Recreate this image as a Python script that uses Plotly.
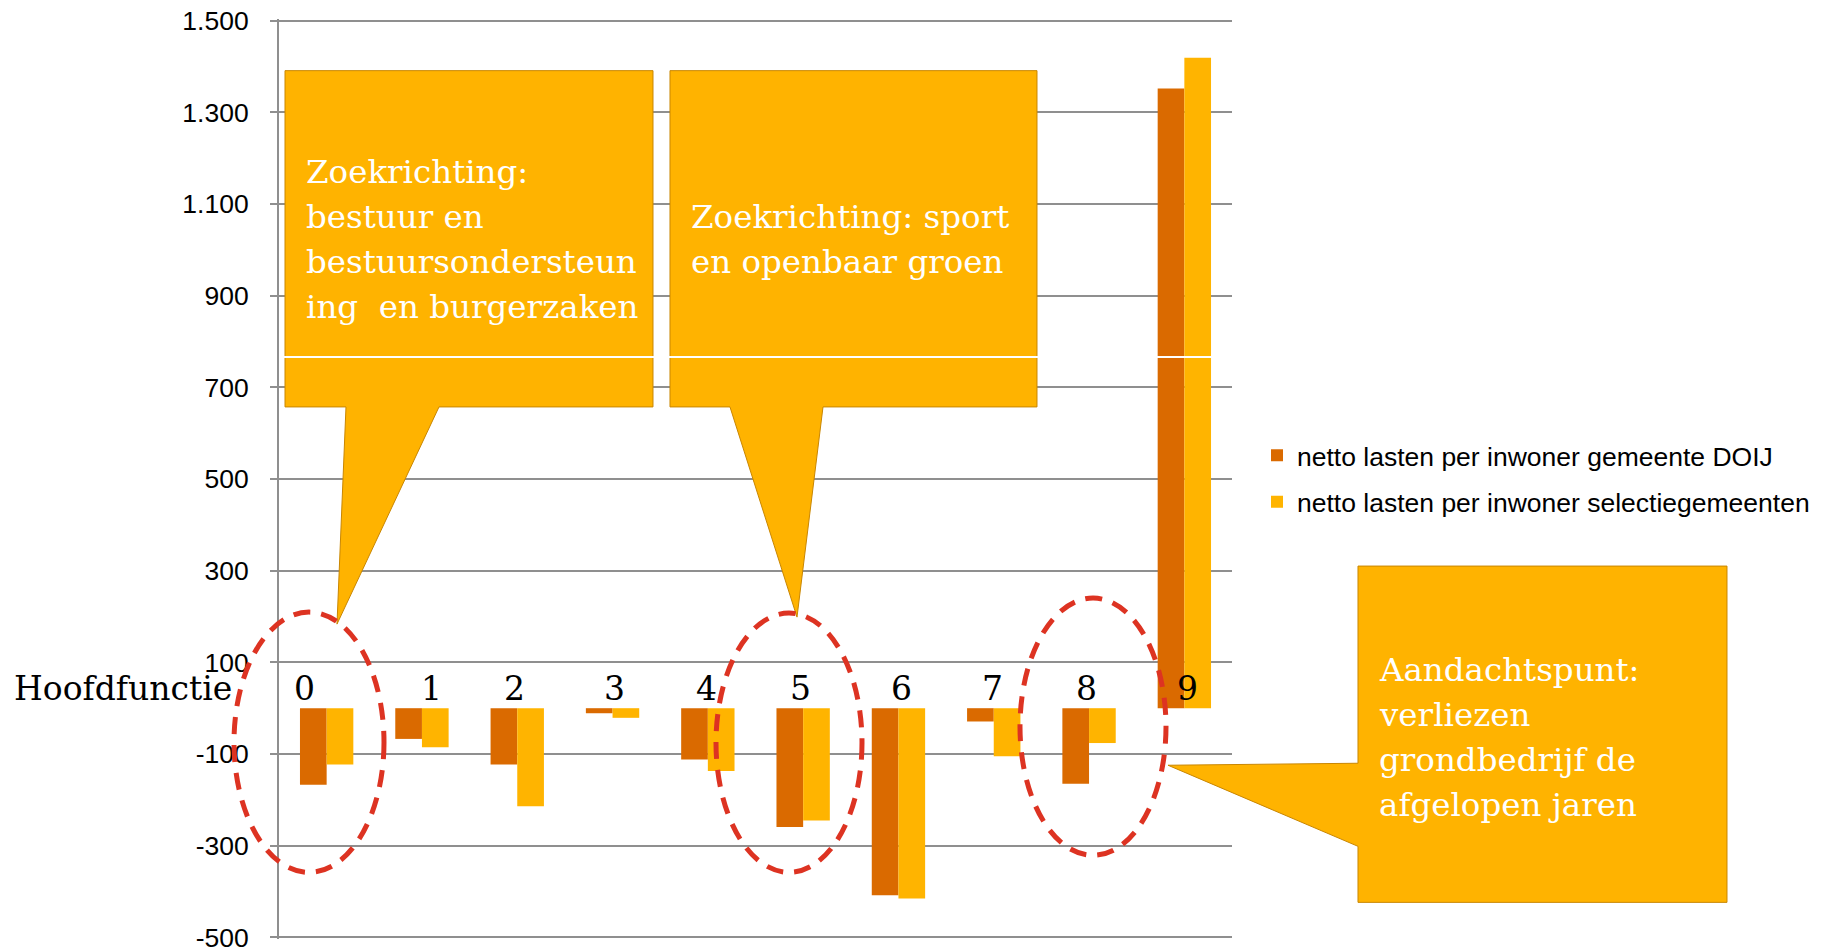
import plotly.graph_objects as go

# ---------------- data ----------------
categories = ["0", "1", "2", "3", "4", "5", "6", "7", "8", "9"]
doij = [-167, -67, -123, -11, -112, -259, -408, -29, -165, 1352]
selectie = [-123, -85, -214, -21, -137, -245, -415, -105, -76, 1419]
series_names = ["netto lasten per inwoner gemeente DOIJ",
                "netto lasten per inwoner selectiegemeenten"]
tick_vals = [-500, -300, -100, 100, 300, 500, 700, 900, 1100, 1300, 1500]
tick_text = ["-500", "-300", "-100", "100", "300", "500", "700", "900",
             "1.100", "1.300", "1.500"]
axis_title = "Hoofdfunctie"
callout_lines = [
    ["Zoekrichting:", "bestuur en", "bestuursondersteun", "ing \u00a0en burgerzaken"],
    ["Zoekrichting: sport", "en openbaar groen"],
    ["Aandachtspunt:", "verliezen", "grondbedrijf de", "afgelopen jaren"],
]

# ---------------- layout geometry (page pixels) ----------------
W, H = 1823, 949
OFF = 8  # default page body margin
Y_MIN, Y_MAX = -500, 1500
PAD_U = 3.5  # small range padding so the edge gridlines are drawn
GRID_TOP, GRID_BOT = 21, 937  # page y of 1500 and -500 gridlines
UNIT = (GRID_BOT - GRID_TOP) / (Y_MAX - Y_MIN)
PLOT_X0, PLOT_X1 = 279, 1232
PLOT_Y0, PLOT_Y1 = GRID_TOP - PAD_U * UNIT, GRID_BOT + PAD_U * UNIT
L, T = PLOT_X0 - OFF, PLOT_Y0 - OFF
R, B = W - (PLOT_X1 - OFF), H - (PLOT_Y1 - OFF)
PW, PH = PLOT_X1 - PLOT_X0, PLOT_Y1 - PLOT_Y0


def px(x):
    return (x - PLOT_X0) / PW


def py(y):
    return (PLOT_Y1 - y) / PH


def path(points):
    return "M " + " L ".join(f"{px(x):.5f},{py(y):.5f}" for x, y in points) + " Z"


DARK = "#DA6A00"
LIGHT = "#FFB400"
CALLOUT = "#FFB300"
GRID = "#8f8f8f"
SERIF = "DejaVu Serif, Georgia, serif"
SANS = "Arial, Liberation Sans, sans-serif"

fig = go.Figure()
fig.add_trace(go.Bar(x=categories, y=doij, name=series_names[0],
                     marker=dict(color=DARK, line=dict(width=0)),
                     legendgroup="a"))
fig.add_trace(go.Bar(x=categories, y=selectie, name=series_names[1],
                     marker=dict(color=LIGHT, line=dict(width=0)),
                     legendgroup="b"))

shapes = []
# callout boxes with tails
callouts = [
    [(285, 71), (653, 71), (653, 407), (439, 407), (337, 624), (346, 407), (285, 407)],
    [(670, 71), (1037, 71), (1037, 407), (823, 407), (797, 617), (730, 407), (670, 407)],
    [(1358, 566), (1727, 566), (1727, 902), (1358, 902), (1358, 846), (1168, 765), (1358, 763)],
]
for pts in callouts:
    shapes.append(dict(type="path", xref="paper", yref="paper", path=path(pts),
                       fillcolor=CALLOUT, line=dict(color="#C98600", width=1),
                       layer="above"))
# white seam across the upper area
shapes.append(dict(type="line", xref="paper", yref="paper",
                   x0=px(279), x1=px(1232), y0=py(357), y1=py(357),
                   line=dict(color="white", width=2), layer="above"))
# dashed ellipses
for (x0, x1, y0, y1) in [(234, 384, 612, 872), (716, 862, 613, 872), (1020, 1166, 598, 855)]:
    shapes.append(dict(type="circle", xref="paper", yref="paper",
                       x0=px(x0), x1=px(x1), y0=py(y1), y1=py(y0),
                       line=dict(color="#DD3322", width=5, dash="17px,11px"),
                       layer="above"))

annotations = []
# category labels at the zero line
label_shift = [-22, 10, -3, 2, -1, -3, 3, -1, -3, 3]
for c, s in zip(categories, label_shift):
    annotations.append(dict(x=c, y=0, xref="x", yref="y", text=c, showarrow=False,
                            xanchor="center", yanchor="bottom", xshift=s, yshift=-2,
                            font=dict(family=SERIF, size=33, color="black")))
annotations.append(dict(x=px(12), y=0, xref="paper", yref="y", text=axis_title,
                        showarrow=False, xanchor="left", yanchor="bottom", yshift=-2,
                        font=dict(family=SERIF, size=33, color="black")))
# callout texts, one annotation per line for exact line spacing
LINE_GAP = 45
for lines, (x, yc) in zip(callout_lines, [(304, 240), (689, 240), (1377, 737)]):
    n = len(lines)
    for i, line in enumerate(lines):
        y = yc + (i - (n - 1) / 2) * LINE_GAP
        annotations.append(dict(x=px(x), y=py(y), xref="paper", yref="paper", text=line,
                                showarrow=False, xanchor="left", yanchor="middle",
                                align="left",
                                font=dict(family=SERIF, size=32.5, color="white")))
# cut-off slide title descender
annotations.append(dict(x=px(518), y=py(10), xref="paper", yref="paper", text="g",
                        showarrow=False, xanchor="center", yanchor="bottom",
                        font=dict(family=SERIF, size=64, color="black")))

fig.update_layout(
    width=W, height=H,
    margin=dict(l=L, r=R, t=T, b=B, pad=0, autoexpand=False),
    paper_bgcolor="white", plot_bgcolor="white",
    barmode="group", bargap=0.44, bargroupgap=0,
    showlegend=True,
    legend=dict(x=px(1257), xanchor="left", y=py(478.5), yanchor="middle",
                font=dict(family=SANS, size=26.5, color="black"),
                tracegroupgap=9, bgcolor="rgba(0,0,0,0)", itemwidth=30),
    shapes=shapes,
    annotations=annotations,
    xaxis=dict(showticklabels=False, showgrid=False, zeroline=False,
               showline=False, ticks=""),
    yaxis=dict(range=[Y_MIN - PAD_U, Y_MAX + PAD_U], tickvals=tick_vals, ticktext=tick_text,
               showgrid=True, gridcolor=GRID, gridwidth=2, zeroline=False,
               showline=True, linecolor=GRID, linewidth=2,
               ticks="outside", ticklen=7, tickcolor=GRID, tickwidth=2,
               ticklabelstandoff=16, ticklabeloverflow="allow",
               tickfont=dict(family=SANS, size=26.5, color="black")),
)

fig.write_html("out.html")
